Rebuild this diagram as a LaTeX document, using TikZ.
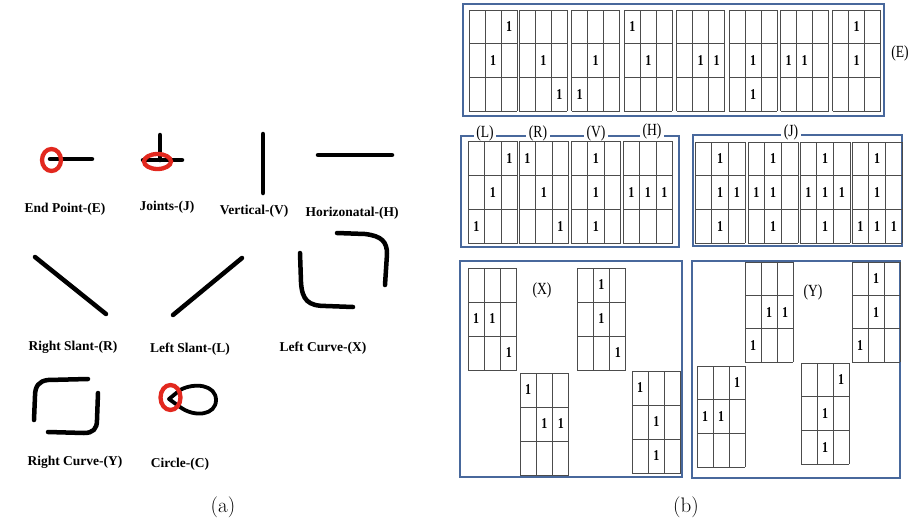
\documentclass[tikz,border=0pt]{standalone}
\usepackage{fontspec}
\usepackage{graphicx}
\newfontfamily\figserif{Liberation Serif}
\definecolor{frameblue}{RGB}{72,104,156}
\definecolor{markred}{RGB}{226,40,30}
\tikzset{
  stroke/.style={line width=4.5pt, line cap=round, line join=round},
  ring/.style={draw=markred, line width=4.3pt},
  tag/.style={font=\figserif\bfseries\fontsize{13.5}{15}\selectfont, inner sep=1pt},
  cellline/.style={draw=black!70, line width=1pt},
  bit/.style={font=\figserif\bfseries\fontsize{15}{15}\selectfont, inner sep=0pt},
  frame/.style={draw=frameblue, line width=2.2pt},
  flabel/.style={font=\figserif\fontsize{17}{17}\selectfont, inner sep=2.5pt, fill=white},
  subcap/.style={font=\fontsize{21}{24}\selectfont}
}
\newcommand{\narrow}[1]{\scalebox{0.8}[1]{#1}}
% 3x3 cell grid: name, left, top, cell width, cell height, list of row/col holding a 1
\newcommand{\bitgrid}[6]{%
  \begin{scope}[shift={(#2,#3)}]
    \foreach \k in {0,...,3} {
      \draw[cellline] (\k*#4,0) -- (\k*#4,3*#5);
      \draw[cellline] (0,\k*#5) -- (3*#4,\k*#5);
    }
    \foreach \r/\c in {#6}
      \node[bit] (#1-\r\c) at ({(\c+0.5)*#4},{(\r+0.5)*#5}) {\narrow{1}};
  \end{scope}}

\begin{document}
\begin{tikzpicture}[x=1pt, y=-1pt]
\useasboundingbox (0,0) rectangle (908,528);

% (a) stroke primitives
\draw[stroke] (50,159) -- (92,159);
\draw[ring] (51.5,160) ellipse [x radius=9.5, y radius=11];
\node[tag] (endpt) at (65,209) {End Point-(E)};

\draw[stroke] (160,135) -- (160,160);
\draw[stroke] (143,160) -- (182,160);
\draw[ring] (157.5,161.5) ellipse [x radius=13.5, y radius=7.5];
\node[tag] (joint) at (167,207) {Joints-(J)};

\draw[stroke] (263,134) -- (263,193);
\node[tag] (vert) at (254,211) {Vertical-(V)};

\draw[stroke] (318,155) -- (392,155);
\node[tag] (horz) at (352,213) {Horizonatal-(H)};

\draw[stroke] (35,257) -- (106,314);
\node[tag] (rslant) at (73,347) {Right Slant-(R)};

\draw[stroke] (173,315) -- (242,258);
\node[tag] (lslant) at (190,349) {Left Slant-(L)};

\draw[stroke] (300,253) -- (301,282) .. controls (302,300) and (308,306) .. (326,306) -- (353,307);
\draw[stroke] (337,233) -- (365,234) .. controls (382,236) and (387,242) .. (387,254) -- (385,285);
\node[tag] (lcurve) at (323,348) {Left Curve-(X)};

\draw[stroke] (88,379) -- (48,380) .. controls (39,381) and (35,386) .. (35,396) -- (34,420);
\draw[stroke] (98,393) -- (97,420) .. controls (97,429) and (93,433) .. (84,433) -- (48,432);
\node[tag] (rcurve) at (75,462) {Right Curve-(Y)};

\draw[stroke, line width=3.8pt] (180,390) -- (169,399) -- (180,407)
  .. controls (195,418) and (216,415) .. (216,400)
  .. controls (216,385) and (195,382) .. (180,390);
\draw[ring] (170.5,397.5) ellipse [x radius=10, y radius=12.5];
\node[tag] (circ) at (180,464) {Circle-(C)};

\node[subcap] (capa) at (223,507) {(a)};

% (b) end points
\draw[frame, line width=2.6pt] (463,4) rectangle (884,116);
\bitgrid{e1}{469}{10}{16}{33.7}{0/2,1/1}
\bitgrid{e2}{519.3}{10}{16}{33.7}{1/1,2/2}
\bitgrid{e3}{571.7}{10}{16}{33.7}{1/1,2/0}
\bitgrid{e4}{624.3}{10}{16}{33.7}{0/0,1/1}
\bitgrid{e5}{676.7}{10}{16}{33.7}{1/1,1/2}
\bitgrid{e6}{729}{10}{16}{33.7}{1/1,2/1}
\bitgrid{e7}{780.7}{10}{16}{33.7}{1/0,1/1}
\bitgrid{e8}{832.7}{10}{16}{33.7}{0/1,1/1}
\node[flabel, fill=none] (labE) at (900,53) {\narrow{(E)}};

% slants, vertical, horizontal
\draw[frame] (461,136) rectangle (679,247);
\node[flabel] (labL) at (485,133) {\narrow{(L)}};
\node[flabel] (labR) at (538,133) {\narrow{(R)}};
\node[flabel] (labV) at (596,133) {\narrow{(V)}};
\node[flabel] (labH) at (652,131) {\narrow{(H)}};
\bitgrid{l}{468}{141}{16.5}{34.3}{0/2,1/1,2/0}
\bitgrid{r}{519}{141}{16.5}{34.3}{0/0,1/1,2/2}
\bitgrid{v}{571}{141}{16.5}{34.3}{0/1,1/1,2/1}
\bitgrid{h}{623}{141}{16.5}{34.3}{1/0,1/1,1/2}

% joints
\draw[frame] (693,135) rectangle (902,246);
\node[flabel] (labJ) at (791,132) {\narrow{(J)}};
\bitgrid{j1}{695}{142}{16.7}{33.7}{0/1,1/1,1/2,2/1}
\bitgrid{j2}{748}{142}{16.7}{33.7}{0/1,1/0,1/1,2/1}
\bitgrid{j3}{800}{142}{16.7}{33.7}{0/1,1/0,1/1,1/2,2/1}
\bitgrid{j4}{852}{142}{16.7}{33.7}{0/1,1/1,2/0,2/1,2/2}

% left curves
\draw[frame] (460,261) rectangle (682,477);
\node[flabel, fill=none] (labX) at (542,290) {\narrow{(X)}};
\bitgrid{x1}{468}{268}{16.3}{34}{1/0,1/1,2/2}
\bitgrid{x2}{577}{268}{16.3}{34}{0/1,1/1,2/2}
\bitgrid{x3}{520}{373}{16.3}{34}{0/0,1/1,1/2}
\bitgrid{x4}{632}{371}{16.3}{34}{0/0,1/1,2/1}

% right curves
\draw[frame] (692,261) rectangle (900,478);
\node[flabel, fill=none] (labY) at (813,292) {\narrow{(Y)}};
\bitgrid{y1}{745}{262}{16}{33.4}{1/1,1/2,2/0}
\bitgrid{y2}{852}{262}{16}{33.4}{0/1,1/1,2/0}
\bitgrid{y3}{697}{366}{16}{33.7}{0/2,1/0,1/1}
\bitgrid{y4}{801}{363}{16}{33.7}{0/2,1/1,2/1}

\node[subcap] (capb) at (686,507) {(b)};
\end{tikzpicture}
\end{document}
